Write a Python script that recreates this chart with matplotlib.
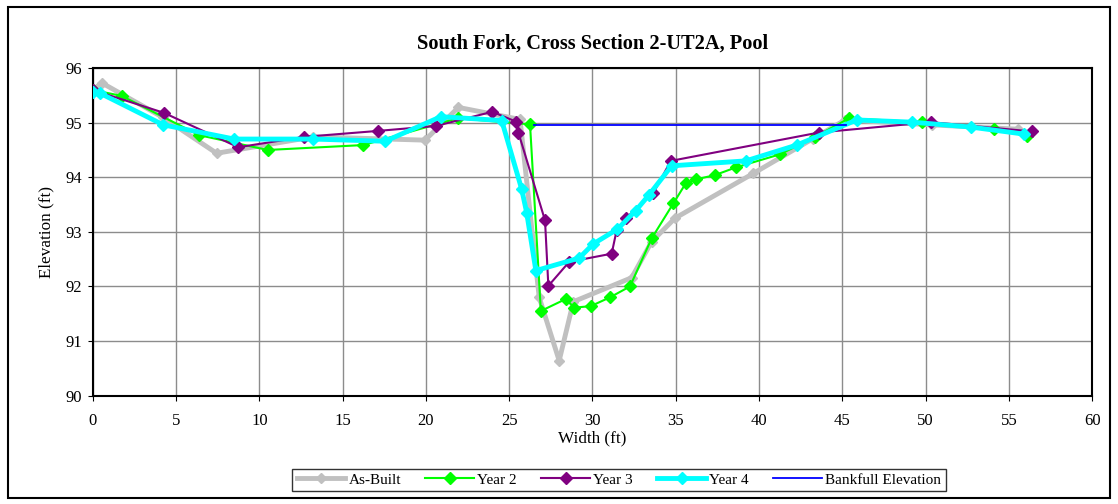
import matplotlib
matplotlib.use("Agg")
import matplotlib.pyplot as plt
from matplotlib.patches import Rectangle

plt.rcParams['font.family'] = ['Liberation Serif', 'DejaVu Serif']

title = "South Fork, Cross Section 2-UT2A, Pool"

asbuilt_x = [0.0, 0.54, 4.2, 7.44, 13.24, 19.95, 21.95, 25.65, 26.8, 28.0, 28.85, 32.35, 33.55, 34.95, 39.65, 43.25, 45.16, 50.36, 55.56, 56.16]
asbuilt_y = [95.6, 95.73, 95.1, 94.44, 94.74, 94.68, 95.28, 95.06, 91.80, 90.64, 91.72, 92.16, 92.82, 93.25, 94.07, 94.71, 95.05, 94.96, 94.88, 94.77]

year2_x = [0.0, 1.74, 6.4, 10.5, 16.24, 21.9, 26.25, 26.9, 28.4, 28.9, 29.9, 31.05, 32.25, 33.55, 34.85, 35.6, 36.2, 37.35, 38.6, 41.25, 43.35, 45.4, 49.75, 54.1, 56.1]
year2_y = [95.6, 95.49, 94.77, 94.5, 94.59, 95.08, 94.97, 91.55, 91.77, 91.61, 91.64, 91.8, 92.0, 92.88, 93.52, 93.89, 93.96, 94.04, 94.18, 94.42, 94.74, 95.08, 95.01, 94.88, 94.76]

year3_x = [0.0, 4.28, 8.74, 12.68, 17.15, 20.6, 23.99, 25.4, 25.55, 27.15, 27.35, 28.6, 31.15, 31.45, 32.0, 33.65, 34.7, 43.6, 50.3, 56.36]
year3_y = [95.6, 95.18, 94.55, 94.74, 94.85, 94.94, 95.2, 95.02, 94.82, 93.21, 92.01, 92.45, 92.6, 93.03, 93.25, 93.71, 94.3, 94.82, 95.01, 94.84]

year4_x = [0.0, 0.44, 4.24, 8.5, 13.2, 17.55, 20.9, 24.55, 25.75, 26.05, 26.6, 29.2, 30.05, 31.5, 32.6, 33.4, 34.75, 39.2, 42.26, 45.86, 49.16, 52.7, 55.92]
year4_y = [95.57, 95.54, 94.96, 94.7, 94.7, 94.66, 95.11, 95.04, 93.78, 93.35, 92.29, 92.52, 92.78, 93.05, 93.39, 93.68, 94.21, 94.3, 94.59, 95.05, 95.01, 94.92, 94.79]

bankfull_x = [26.5, 45.2]
bankfull_y = [94.96, 94.96]

W, H = 1118, 504
fig = plt.figure(figsize=(W / 100, H / 100), dpi=100)
ax = fig.add_axes([92.7 / W, 1 - 395.6 / H, (1092.3 - 92.7) / W, (395.6 - 68.1) / H])

ax.plot(asbuilt_x, asbuilt_y, color='#C0C0C0', lw=3.5, marker='D', ms=5.5, label='As-Built', zorder=3)
ax.plot(year2_x, year2_y, color='#00FF00', lw=1.5, marker='D', ms=6, label='Year 2', zorder=4)
ax.plot(year3_x, year3_y, color='#800080', lw=1.5, marker='D', ms=6, label='Year 3', zorder=5)
ax.plot(year4_x, year4_y, color='#00FFFF', lw=3.5, marker='D', ms=6, label='Year 4', zorder=6)
ax.plot(bankfull_x, bankfull_y, color='#0000FF', lw=1.3, label='Bankfull Elevation', zorder=7)

ax.set_xlim(0, 60)
ax.set_ylim(90, 96)
ax.set_xticks(range(0, 61, 5))
ax.set_yticks(range(90, 97, 1))
ax.grid(True, color='#8C8C8C', lw=1.0)
ax.set_axisbelow(True)
for s in ax.spines.values():
    s.set_color('black')
    s.set_linewidth(1.5)
ax.tick_params(labelsize=12, length=3.6, direction='out', color='black')
ax.tick_params(axis='x', pad=9)
ax.tick_params(axis='y', pad=4)

ax.set_title(title, fontsize=14.7, fontweight='bold', pad=14)
ax.set_xlabel('Width (ft)', fontsize=12.3, labelpad=1)
ax.set_ylabel('Elevation (ft)', fontsize=12.3, labelpad=8)

leg = fig.legend(loc='center', bbox_to_anchor=(619 / W, 1 - 480 / H), ncol=5, frameon=True,
                 fancybox=False, edgecolor='black', fontsize=11, handlelength=3.2,
                 columnspacing=1.6, handletextpad=0.2, borderpad=0.3)
leg.get_frame().set_linewidth(1.0)

fig.patches.append(Rectangle((8 / W, 6 / H), 1102 / W, 491 / H, transform=fig.transFigure,
                             fill=False, edgecolor='black', lw=1.5))

fig.savefig('out.png', dpi=100)
